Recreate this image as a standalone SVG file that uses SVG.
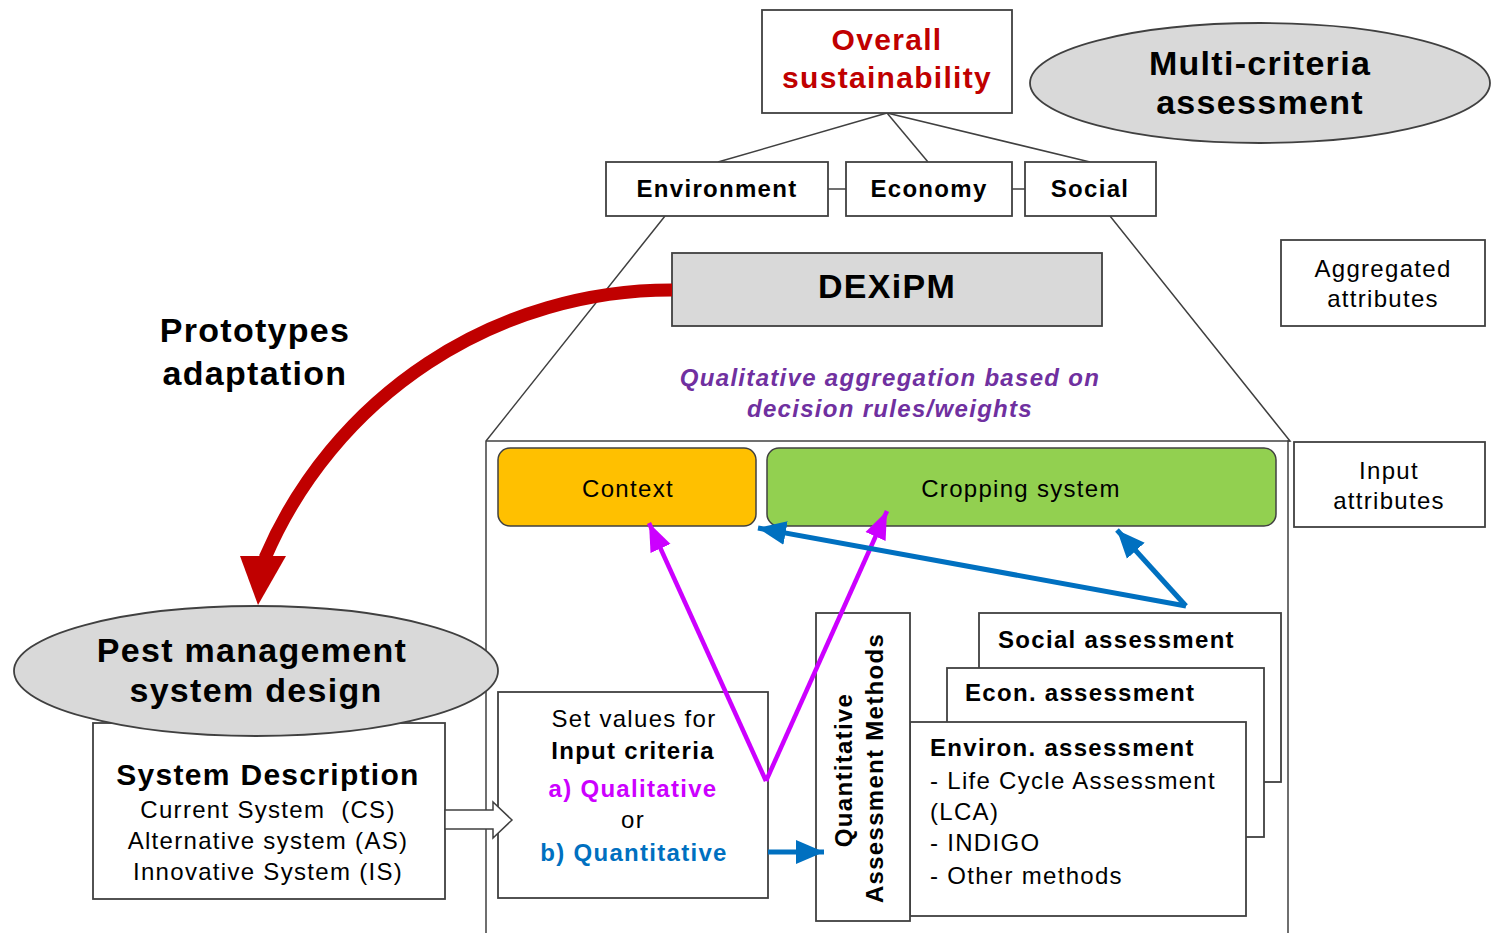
<svg xmlns="http://www.w3.org/2000/svg" width="1495" height="933" viewBox="0 0 1495 933">
<style>
text{font-family:"Liberation Sans",Arial,sans-serif;fill:#000;letter-spacing:1.3px}
.box{fill:#fff;stroke:#404040;stroke-width:1.8}
.gray{fill:#d9d9d9;stroke:#404040;stroke-width:1.8}
.ln{stroke:#404040;stroke-width:1.5;fill:none}
.b{font-weight:bold}
.c{text-anchor:middle}
.big{font-size:34px;font-weight:bold}
.m{font-size:24px}
.mag{stroke:#cc00ff;stroke-width:4.5;fill:none}
.blu{stroke:#0070c0;stroke-width:5;fill:none}
</style>
<defs>
<marker id="hm" markerUnits="userSpaceOnUse" markerWidth="30" markerHeight="26" refX="28" refY="13" orient="auto" viewBox="0 0 30 26"><path d="M0,2 L28,13 L0,24 Z" fill="#cc00ff"/></marker>
<marker id="hb" markerUnits="userSpaceOnUse" markerWidth="30" markerHeight="28" refX="28" refY="14" orient="auto" viewBox="0 0 30 28"><path d="M0,2 L28,14 L0,26 Z" fill="#0070c0"/></marker>
</defs>

<g id="frame">
<line class="ln" x1="887" y1="113" x2="718" y2="162"/>
<line class="ln" x1="887" y1="113" x2="928" y2="162"/>
<line class="ln" x1="887" y1="113" x2="1090" y2="162"/>
<line class="ln" x1="828" y1="189" x2="846" y2="189"/>
<line class="ln" x1="1012" y1="189" x2="1025" y2="189"/>
<polyline class="ln" points="665,216 486,441 486,933"/>
<polyline class="ln" points="1110,216 1290,441 1288,441 1288,933"/>
<line class="ln" x1="486" y1="441" x2="1290" y2="441" stroke-width="2"/>
</g>

<g id="overall"><rect class="box" x="762" y="10" width="250" height="103"/>
<text class="c b" x="887" y="50" font-size="30" style="fill:#c00000">Overall</text>
<text class="c b" x="887" y="88" font-size="30" style="fill:#c00000">sustainability</text></g>

<g id="multicriteria"><ellipse cx="1260" cy="83" rx="230" ry="60" class="gray"/>
<text class="c big" x="1260" y="75">Multi-criteria</text>
<text class="c big" x="1260" y="114">assessment</text></g>

<g id="environment"><rect class="box" x="606" y="162" width="222" height="54"/><text class="c b m" x="717" y="197">Environment</text></g>
<g id="economy"><rect class="box" x="846" y="162" width="166" height="54"/><text class="c b m" x="929" y="197">Economy</text></g>
<g id="social"><rect class="box" x="1025" y="162" width="131" height="54"/><text class="c b m" x="1090" y="197">Social</text></g>

<g id="dexipm"><rect class="gray" x="672" y="253" width="430" height="73"/><text class="c big" x="887" y="298">DEXiPM</text></g>

<g id="aggregation-note"><text class="c b" x="890" y="386" font-size="24" font-style="italic" style="fill:#7030a0">Qualitative aggregation based on</text>
<text class="c b" x="890" y="417" font-size="24" font-style="italic" style="fill:#7030a0">decision rules/weights</text></g>

<g id="aggregated"><rect class="box" x="1281" y="240" width="204" height="86"/>
<text class="c m" x="1383" y="277">Aggregated</text><text class="c m" x="1383" y="307">attributes</text></g>
<g id="input-attr"><rect class="box" x="1294" y="442" width="191" height="85"/>
<text class="c m" x="1389" y="479">Input</text><text class="c m" x="1389" y="509">attributes</text></g>

<g id="context"><rect x="498" y="448" width="258" height="78" rx="12" fill="#ffc000" stroke="#404040" stroke-width="1.5"/>
<text class="c m" x="628" y="497">Context</text></g>
<g id="cropping"><rect x="767" y="448" width="509" height="78" rx="12" fill="#92d050" stroke="#404040" stroke-width="1.5"/>
<text class="c m" x="1021" y="497">Cropping system</text></g>

<g id="prototypes-label"><text class="c big" x="255" y="342">Prototypes</text><text class="c big" x="255" y="385">adaptation</text></g>

<g id="system-description"><rect class="box" x="93" y="723" width="352" height="176"/>
<text class="c b" x="268" y="785" font-size="30">System Description</text>
<text class="c m" x="268" y="818" style="white-space:pre">Current System  (CS)</text>
<text class="c m" x="268" y="849">Alternative system (AS)</text>
<text class="c m" x="268" y="880">Innovative System (IS)</text></g>

<g id="pest"><ellipse cx="256" cy="671" rx="242" ry="65" class="gray"/>
<text class="c big" x="252" y="662">Pest management</text>
<text class="c big" x="256" y="702">system design</text></g>

<g id="set-values"><rect class="box" x="498" y="692" width="270" height="206"/>
<text class="c m" x="634" y="727">Set values for</text>
<text class="c b m" x="633" y="759">Input criteria</text>
<text class="c b m" x="633" y="797" style="fill:#cc00ff">a) Qualitative</text>
<text class="c m" x="633" y="828">or</text>
<text class="c b m" x="634" y="861" style="fill:#0070c0">b) Quantitative</text></g>

<g id="social-assessment"><rect class="box" x="979" y="613" width="302" height="169"/><text class="b m" x="998" y="648">Social assessment</text></g>
<g id="econ-assessment"><rect class="box" x="947" y="668" width="317" height="169"/><text class="b m" x="965" y="701">Econ. assessment</text></g>
<g id="environ-assessment"><rect class="box" x="910" y="722" width="336" height="194"/>
<text class="b m" x="930" y="756">Environ. assessment</text>
<text class="m" x="930" y="789">- Life Cycle Assessment</text>
<text class="m" x="930" y="820">(LCA)</text>
<text class="m" x="930" y="851">- INDIGO</text>
<text class="m" x="930" y="884">- Other methods</text></g>

<g id="quantitative-methods"><rect class="box" x="816" y="613" width="94" height="308"/>
<text class="c b m" transform="translate(852,770) rotate(-90)">Quantitative</text>
<text class="c b m" transform="translate(883,768) rotate(-90)">Assessment Methods</text></g>

<g id="connectors">
<path d="M672,290 A442,442 0 0 0 265,558" fill="none" stroke="#c00000" stroke-width="13"/>
<polygon points="240,556 286,556 258,605" fill="#c00000"/>
<polygon points="445,810 493,810 493,802 512,820 493,838 493,829 445,829" fill="#fff" stroke="#404040" stroke-width="1.5"/>
<line class="mag" x1="766" y1="781" x2="649" y2="523" marker-end="url(#hm)"/>
<line class="mag" x1="766" y1="781" x2="887" y2="511" marker-end="url(#hm)"/>
<line class="blu" x1="1186" y1="606" x2="758" y2="528" marker-end="url(#hb)"/>
<line class="blu" x1="1186" y1="606" x2="1117" y2="530" marker-end="url(#hb)"/>
<line class="blu" x1="768" y1="852" x2="824" y2="852" marker-end="url(#hb)"/>
</g>
</svg>
